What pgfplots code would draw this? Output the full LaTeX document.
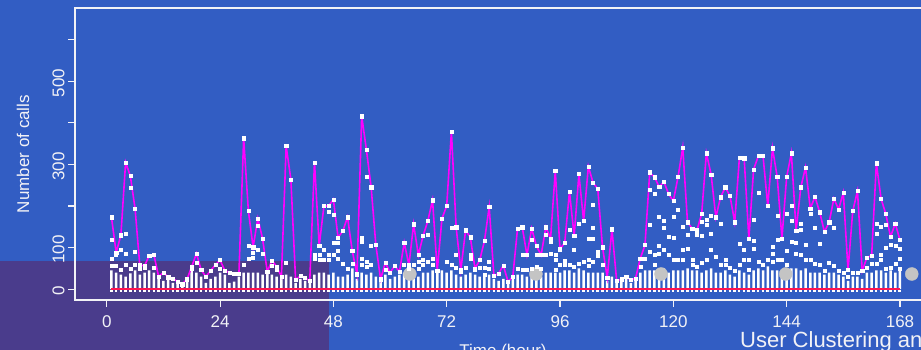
\documentclass[border=0pt]{standalone}
\usepackage{fontspec}
\setmainfont{Liberation Sans}
\usepackage{pgfplots}
\usepackage{pgfplotstable}
\pgfplotsset{compat=1.18}

\definecolor{bgblue}{HTML}{325DC3}
\definecolor{cornerpurple}{HTML}{4A3C8C}
\definecolor{maxline}{HTML}{FF00FF}
\definecolor{zeroline}{HTML}{FF1450}
\definecolor{axiswhite}{HTML}{F2F2F6}
\definecolor{marker}{HTML}{C4C4C4}

% maximum number of calls per hour over all users
\pgfplotstableread{
h calls
1 173
2 88
3 130
4 305
5 272
6 194
7 58
8 56
9 81
10 82
11 30
12 40
13 29
14 26
15 18
16 12
17 24
18 54
19 86
20 46
21 30
22 45
23 58
24 70
25 45
26 40
27 38
28 38
29 363
30 188
31 101
32 170
33 122
34 42
35 69
36 54
37 30
38 344
39 264
40 22
41 32
42 27
43 20
44 305
45 104
46 200
47 200
48 216
49 124
50 140
51 173
52 92
53 36
54 416
55 335
56 245
57 106
58 24
59 64
60 40
61 56
62 42
63 112
64 58
65 156
66 82
67 128
68 164
69 214
70 45
71 170
72 200
73 379
74 149
75 46
76 142
77 125
78 50
79 70
80 116
81 198
82 32
83 38
84 57
85 18
86 30
87 145
88 149
89 82
90 146
91 104
92 82
93 149
94 122
95 284
96 96
97 112
98 234
99 128
100 277
101 164
102 295
103 256
104 241
105 101
106 28
107 144
108 20
109 24
110 30
111 22
112 26
113 74
114 106
115 281
116 269
117 246
118 258
119 229
120 212
121 270
122 341
123 161
124 146
125 142
126 181
127 327
128 276
129 173
130 221
131 245
132 224
133 161
134 317
135 315
136 121
137 288
138 320
139 320
140 200
141 339
142 270
143 122
144 270
145 327
146 141
147 245
148 293
149 194
150 222
151 185
152 138
153 161
154 218
155 192
156 232
157 46
158 188
159 236
160 44
161 76
162 81
163 303
164 217
165 181
166 126
167 158
168 118
}\hourlymax

% dense bulk of users per hour
\pgfplotstableread{
h bar
1 45
2 40
3 35
4 30
5 38
6 45
7 35
8 40
9 45
10 40
11 30
12 20
13 25
14 15
15 12
16 10
17 20
18 45
19 40
20 30
21 15
22 25
23 30
24 40
25 35
26 15
27 18
28 30
29 40
30 40
31 40
32 40
33 35
34 40
35 35
36 30
37 25
38 35
39 30
40 15
41 25
42 20
43 15
44 35
45 40
46 40
47 35
48 40
49 30
50 30
51 35
52 50
53 25
54 40
55 35
56 40
57 30
58 20
59 35
60 25
61 30
62 35
63 40
64 40
65 30
66 30
67 40
68 40
69 45
70 40
71 45
72 40
73 45
74 35
75 30
76 35
77 40
78 35
79 30
80 30
81 35
82 25
83 20
84 25
85 15
86 25
87 35
88 35
89 30
90 40
91 40
92 30
93 40
94 40
95 40
96 40
97 45
98 45
99 40
100 50
101 45
102 40
103 40
104 40
105 40
106 20
107 30
108 15
109 20
110 25
111 15
112 25
113 40
114 45
115 45
116 45
117 45
118 50
119 40
120 45
121 45
122 45
123 50
124 45
125 45
126 40
127 45
128 50
129 40
130 40
131 45
132 35
133 30
134 45
135 40
136 35
137 45
138 50
139 45
140 55
141 45
142 45
143 45
144 45
145 50
146 50
147 45
148 50
149 40
150 40
151 40
152 35
153 40
154 40
155 35
156 30
157 20
158 30
159 30
160 25
161 40
162 40
163 45
164 45
165 40
166 45
167 40
168 45
}\hourlybulk

% individual users above the bulk
\pgfplotstableread{
h calls
1 120
1 74
1 56
2 82
2 56
3 94
3 46
4 134
4 86
4 58
5 245
5 50
6 90
6 60
7 50
8 52
10 52
18 50
19 64
24 50
29 58
30 105
30 74
31 99
31 87
31 76
32 153
32 94
33 86
35 57
36 46
38 63
44 74
44 84
45 84
45 71
46 96
46 71
47 186
47 82
47 70
48 178
48 112
48 83
49 112
49 93
49 74
50 62
51 50
52 62
54 124
54 114
54 74
54 58
55 270
55 66
55 55
56 104
56 60
59 46
63 58
64 50
65 58
66 66
66 50
67 70
67 58
68 132
68 66
69 74
69 58
72 66
73 149
73 58
74 82
74 52
75 42
76 52
77 84
77 74
78 46
79 52
80 52
80 36
81 66
81 50
87 50
88 82
88 46
89 46
90 120
90 50
91 82
91 54
92 50
93 130
93 82
94 114
94 86
95 82
95 70
95 46
96 60
97 68
97 58
98 142
98 58
99 96
99 55
100 158
100 62
101 66
102 122
102 70
102 56
103 204
103 149
103 122
103 66
104 90
104 80
105 60
113 55
114 74
115 240
115 156
115 90
116 230
116 82
116 60
117 174
117 104
117 86
118 164
118 148
118 94
119 126
119 82
120 174
120 124
120 70
121 190
121 70
122 150
122 96
122 70
123 132
123 98
124 70
124 58
125 130
125 54
126 162
126 128
126 64
127 166
127 156
127 70
128 176
128 134
128 94
129 78
130 158
130 58
131 70
131 58
132 52
133 45
134 110
134 58
135 94
135 70
136 70
136 46
137 166
137 116
137 98
138 233
138 66
139 60
140 70
141 102
141 86
141 66
142 176
142 118
142 70
143 70
144 181
144 92
144 58
145 200
145 164
145 114
146 112
146 86
147 158
147 142
147 84
148 106
148 70
149 181
149 70
150 149
150 62
151 110
151 58
152 45
153 64
154 149
154 56
155 45
156 40
157 30
158 40
159 40
161 52
162 62
163 158
163 134
163 62
164 150
164 84
164 72
165 156
165 100
165 50
166 106
166 52
167 104
167 62
168 98
168 74
168 50
}\usercalls

\begin{document}
\begin{tikzpicture}
\path[use as bounding box] (0pt,0pt) rectangle (921pt,350pt);
\clip (0pt,0pt) rectangle (921pt,350pt);
\fill[bgblue] (0pt,0pt) rectangle (921pt,350pt);
\fill[cornerpurple] (0pt,0pt) rectangle (329pt,89pt);
\begin{axis}[
  at={(75pt,50pt)}, anchor=south west,
  scale only axis, width=856.7pt, height=292pt,
  xmin=-6.72, xmax=174.72, ymin=-26, ymax=676,
  axis line style={axiswhite, line width=1.3pt},
  tick align=outside, xtick pos=bottom, ytick pos=left,
  major tick length=7pt,
  tick style={axiswhite, line width=1.1pt},
  xtick={0,24,...,168},
  ytick={0,100,...,600},
  yticklabels={0,100,,300,,500,},
  /pgf/number format/assume math mode=true,
  ticklabel style={font=\fontsize{17}{20}\selectfont, text=axiswhite},
  xticklabel style={anchor=north, yshift=-5pt},
  yticklabel style={rotate=90, anchor=south, xshift=-2pt},
]
% hourly markers
\addplot[only marks, mark=*, mark size=6.5pt, color=marker, mark options={draw=none}]
  coordinates {(64.2,36.5) (90.9,36.5) (117.4,36.5) (143.8,36.5) (170.5,36.5)};
% bulk of users
\addplot[ybar, bar width=2.5pt, bar shift=0pt, fill=white, draw=none]
  table[x=h, y=bar] {\hourlybulk};
\addplot[white, line width=1.5pt, dash pattern=on 2.5pt off 2.22pt]
  coordinates {(0.735,-4) (168.3,-4)};
% individual users
\addplot[only marks, mark=square*, mark size=1.5pt, color=white]
  table[x=h, y=calls] {\usercalls};
\addplot[only marks, mark=square*, mark size=1.6pt, color=white]
  table[x=h, y=calls] {\hourlymax};
% hourly maximum
\addplot[maxline, line width=1.6pt, no marks] table[x=h, y=calls] {\hourlymax};
% zero baseline
\addplot[zeroline, line width=2pt, no marks] coordinates {(1,0) (168,0)};
\end{axis}
\node[rotate=90, text=axiswhite, font=\fontsize{17}{20}\selectfont] at (23pt,196pt) {Number of calls};
\node[anchor=base, text=axiswhite, font=\fontsize{17}{20}\selectfont] at (503pt,-7pt) {Time (hour)};
\node[anchor=base west, text=axiswhite, font=\fontsize{22}{26}\selectfont, inner sep=0pt] at (740pt,2pt) {User Clustering and Call Volume};
\end{tikzpicture}
\end{document}
